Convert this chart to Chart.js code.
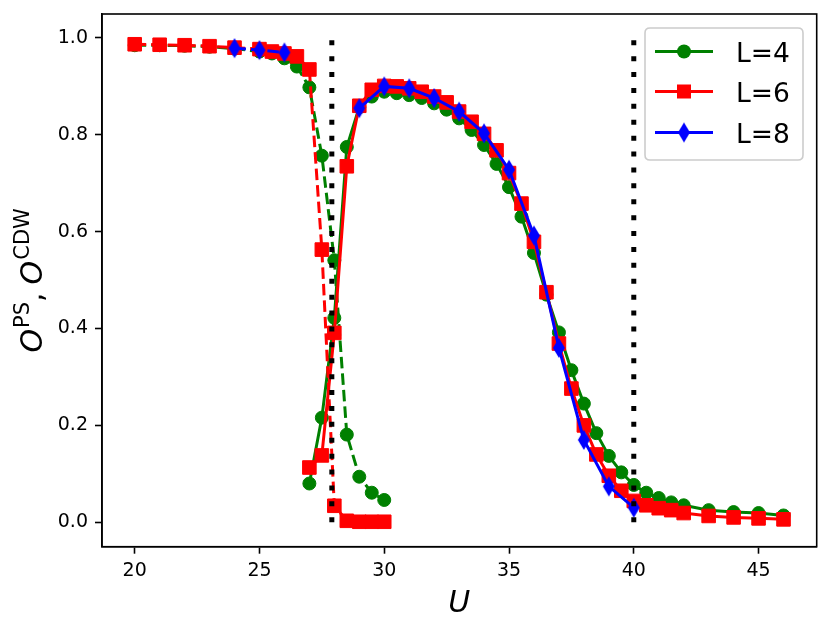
<!DOCTYPE html>
<html><head><meta charset="utf-8">
<script src="https://cdn.jsdelivr.net/npm/chart.js@4"></script>
<style>html,body{margin:0;padding:0;background:#fff}#wrap{width:831px;height:634px;position:relative}</style>
</head><body><div id="wrap"><canvas id="c"></canvas></div>
<script>
// ---- data ----
const U_L4_PS  = [20,21,22,23,24,25,25.5,26,26.5,27,27.5,28,28.5,29,29.5,30];
const O_L4_PS  = [0.985,0.985,0.984,0.982,0.978,0.972,0.968,0.958,0.941,0.898,0.757,0.541,0.181,0.094,0.061,0.046];
const U_L4_CDW = [27,27.5,28,28.5,29,29.5,30,30.5,31,31.5,32,32.5,33,33.5,34,34.5,35,35.5,36,36.5,37,37.5,38,38.5,39,39.5,40,40.5,41,41.5,42,43,44,45,46];
const O_L4_CDW = [0.080,0.216,0.422,0.775,0.857,0.879,0.889,0.886,0.882,0.876,0.865,0.852,0.834,0.810,0.779,0.740,0.692,0.631,0.556,0.470,0.392,0.314,0.245,0.184,0.137,0.103,0.077,0.061,0.050,0.041,0.035,0.025,0.021,0.019,0.014];
const U_L6_PS  = [20,21,22,23,24,25,25.5,26,26.5,27,27.5,28,28.5,29,29.5,30];
const O_L6_PS  = [0.987,0.986,0.985,0.983,0.980,0.977,0.972,0.968,0.962,0.935,0.563,0.034,0.003,0.001,0.001,0.001];
const U_L6_CDW = [27,27.5,28,28.5,29,29.5,30,30.5,31,31.5,32,32.5,33,33.5,34,34.5,35,35.5,36,36.5,37,37.5,38,38.5,39,39.5,40,40.5,41,41.5,42,43,44,45,46];
const O_L6_CDW = [0.113,0.138,0.391,0.735,0.860,0.893,0.901,0.900,0.896,0.889,0.879,0.867,0.848,0.827,0.802,0.768,0.721,0.658,0.579,0.475,0.369,0.276,0.200,0.140,0.096,0.065,0.044,0.035,0.029,0.025,0.019,0.013,0.010,0.008,0.006];
const U_L8_PS  = [24,25,26];
const O_L8_PS  = [0.979,0.975,0.970];
const U_L8_CDW = [29,30,31,32,33,34,35,36,37,38,39,40];
const O_L8_CDW = [0.855,0.900,0.896,0.876,0.848,0.803,0.728,0.592,0.360,0.170,0.074,0.030];
const U_MARKS  = [27.9, 40];
const MARK_RANGE = [0, 1];
const X_TICKS = [20,25,30,35,40,45];
const Y_TICKS = [0,0.2,0.4,0.6,0.8,1.0];
const LEGEND_LABELS = ['L=4','L=6','L=8'];

// ---- styles ----
const FONT = '"DejaVu Sans", sans-serif';
const GREEN = '#008000', RED = '#ff0000', BLUE = '#0000ff';

function thinDiamond(color){
  const c = document.createElement('canvas');
  c.width = 14; c.height = 22;
  const g = c.getContext('2d');
  g.fillStyle = color;
  g.beginPath();
  g.moveTo(7,1); g.lineTo(13,11); g.lineTo(7,21); g.lineTo(1,11); g.closePath();
  g.fill();
  return c;
}
const DIAM = thinDiamond(BLUE);

const pts = (u,v) => u.map((x,i)=>({x:x, y:v[i]}));
const DASH = [11.5, 5];
function series(u, v, color, marker, dashed, order){
  const d = {
    data: pts(u,v), showLine: true, borderColor: color, backgroundColor: color,
    borderWidth: 3, borderDash: dashed ? DASH : [], tension: 0,
    pointBackgroundColor: color, pointBorderColor: color, pointBorderWidth: 1,
    pointHoverRadius: 0, order: order
  };
  if (marker === 'circle'){ d.pointStyle = 'circle'; d.pointRadius = 6.5; }
  else if (marker === 'rect'){ d.pointStyle = 'rect'; d.pointRadius = 9.6; }
  else { d.pointStyle = DIAM; d.pointRadius = 10; d.pointBorderWidth = 0; }
  return d;
}
const datasets = [
  series(U_L4_PS,  O_L4_PS,  GREEN, 'circle', true, 6),
  series(U_L4_CDW, O_L4_CDW, GREEN, 'circle', false, 5),
  series(U_L6_PS,  O_L6_PS,  RED, 'rect', true, 4),
  series(U_L6_CDW, O_L6_CDW, RED, 'rect', false, 3),
  series(U_L8_PS,  O_L8_PS,  BLUE, 'diamond', true, 2),
  series(U_L8_CDW, O_L8_CDW, BLUE, 'diamond', false, 1),
];
U_MARKS.forEach(u => datasets.push({
  data: MARK_RANGE.map(y => ({x:u, y:y})), showLine: true, borderColor: '#000',
  borderWidth: 5, borderDash: [5, 10.9], borderCapStyle: 'butt', pointRadius: 0, pointHoverRadius: 0, order: 0
}));

const legendItems = [
  {label: LEGEND_LABELS[0], color: GREEN, marker: 'circle'},
  {label: LEGEND_LABELS[1], color: RED, marker: 'rect'},
  {label: LEGEND_LABELS[2], color: BLUE, marker: 'diamond'},
];

const decor = {
  id: 'decor',
  afterDraw(chart){
    const ctx = chart.ctx, a = chart.chartArea;
    ctx.save();
    // frame
    ctx.strokeStyle = '#000'; ctx.lineWidth = 1.6;
    ctx.strokeRect(a.left, a.top, a.right - a.left, a.bottom - a.top);
    // legend
    const bx = 645, by = 28, bw = 158, bh = 132, r = 5;
    ctx.beginPath();
    ctx.moveTo(bx+r,by); ctx.lineTo(bx+bw-r,by); ctx.quadraticCurveTo(bx+bw,by,bx+bw,by+r);
    ctx.lineTo(bx+bw,by+bh-r); ctx.quadraticCurveTo(bx+bw,by+bh,bx+bw-r,by+bh);
    ctx.lineTo(bx+r,by+bh); ctx.quadraticCurveTo(bx,by+bh,bx,by+bh-r);
    ctx.lineTo(bx,by+r); ctx.quadraticCurveTo(bx,by,bx+r,by); ctx.closePath();
    ctx.fillStyle = 'rgba(255,255,255,0.8)'; ctx.fill();
    ctx.strokeStyle = '#cccccc'; ctx.lineWidth = 1.6; ctx.stroke();
    const rows = [51.5, 91.5, 132.5];
    legendItems.forEach((it, i) => {
      const y = rows[i];
      ctx.strokeStyle = it.color; ctx.lineWidth = 3; ctx.setLineDash([]);
      ctx.beginPath(); ctx.moveTo(655, y); ctx.lineTo(713, y); ctx.stroke();
      ctx.fillStyle = it.color;
      if (it.marker === 'circle'){ ctx.beginPath(); ctx.arc(684, y, 7, 0, Math.PI*2); ctx.fill(); }
      else if (it.marker === 'rect'){ ctx.fillRect(684-7, y-7, 14, 14); }
      else { ctx.drawImage(DIAM, 684-7, y-11); }
      ctx.fillStyle = '#000'; ctx.font = '26.5px ' + FONT; ctx.textAlign = 'left'; ctx.textBaseline = 'alphabetic';
      ctx.fillText(it.label, 736, y + 10);
    });
    // x title
    ctx.fillStyle = '#000';
    ctx.font = 'italic 30px ' + FONT; ctx.textAlign = 'center'; ctx.textBaseline = 'alphabetic';
    ctx.fillText('U', (a.left + a.right)/2, 612);
    // y title
    const big = 'italic 30px ' + FONT, rom = '30px ' + FONT, sup = '21px ' + FONT;
    const parts = [
      {t:'O', f:big, dy:0, gap:1}, {t:'PS', f:sup, dy:-13.5, gap:0},
      {t:',', f:rom, dy:0, gap:8}, {t:'O', f:big, dy:0, gap:1}, {t:'CDW', f:sup, dy:-13.5, gap:0}
    ];
    let total = 0;
    parts.forEach(p => { ctx.font = p.f; p.w = ctx.measureText(p.t).width; total += p.w + p.gap; });
    ctx.translate(42, (a.top + a.bottom)/2);
    ctx.rotate(-Math.PI/2);
    ctx.textAlign = 'left';
    let x = -total/2;
    parts.forEach(p => { ctx.font = p.f; ctx.fillText(p.t, x, p.dy); x += p.w + p.gap; });
    ctx.restore();
  }
};

new Chart(document.getElementById('c'), {
  type: 'scatter',
  data: { datasets: datasets },
  options: {
    responsive: true, maintainAspectRatio: false, animation: false,
    layout: { padding: { left: 0, right: 14.3, top: 14, bottom: 0 } },
    plugins: { legend: { display: false }, tooltip: { enabled: false } },
    scales: {
      x: {
        type: 'linear', min: 18.69, max: 47.33,
        afterBuildTicks: s => { s.ticks = X_TICKS.map(v => ({value: v})); },
        afterFit: s => { s.height = 87.3; s.paddingLeft = 0; s.paddingRight = 0; },
        grid: { display: true, drawOnChartArea: false, drawTicks: true, tickLength: 7, tickColor: '#000', tickWidth: 1.6 },
        border: { display: true, color: '#000', width: 1.6 },
        ticks: { color: '#000', font: { family: FONT, size: 19 }, padding: 6, maxRotation: 0, callback: v => String(v) }
      },
      y: {
        type: 'linear', min: -0.0505, max: 1.0495,
        afterBuildTicks: s => { s.ticks = Y_TICKS.map(v => ({value: v})); },
        afterFit: s => { s.width = 102; s.paddingTop = 0; s.paddingBottom = 0; },
        grid: { display: true, drawOnChartArea: false, drawTicks: true, tickLength: 7, tickColor: '#000', tickWidth: 1.6 },
        border: { display: true, color: '#000', width: 1.6 },
        ticks: { color: '#000', font: { family: FONT, size: 19 }, padding: 7, callback: v => Number(v).toFixed(1) }
      }
    }
  },
  plugins: [decor]
});
</script>
</body></html>
